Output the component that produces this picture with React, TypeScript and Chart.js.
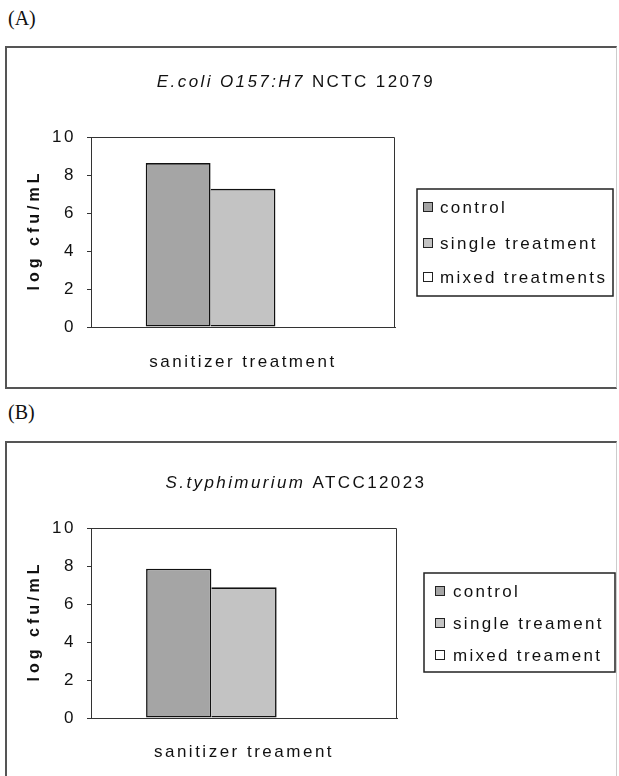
import React, { useEffect, useRef } from 'react';
import { Chart, registerables } from 'chart.js';

Chart.register(...registerables);

// ---------- data ----------
const categories = [''];
const yMin = 0;
const yMax = 10;
const yStep = 2;
const yTitle = 'log cfu/mL';
const seriesColors = ['#a5a5a5', '#c3c3c3', '#ffffff'];

const titleA = [
  { text: 'E.coli O157:H7', italic: true },
  { text: ' NCTC 12079', italic: false },
];
const labelsA = ['control', 'single treatment', 'mixed treatments'];
const controlA = [8.63];
const singleA = [7.27];
const mixedA = [0];
const xTitleA = 'sanitizer treatment';

const titleB = [
  { text: 'S.typhimurium', italic: true },
  { text: ' ATCC12023', italic: false },
];
const labelsB = ['control', 'single treament', 'mixed treament'];
const controlB = [7.86];
const singleB = [6.88];
const mixedB = [0];
const xTitleB = 'sanitizer treament';

// ---------- drawing helpers ----------
const FONT = "'Liberation Sans', Arial, sans-serif";
const TEXT = '#111';

const decorPlugin = {
  id: 'decor',
  beforeDraw(chart: any) {
    (chart.ctx as any).letterSpacing = '2.5px';
  },
  afterDraw(chart: any, _args: any, opts: any) {
    const ctx = chart.ctx as any;
    const { left, top, right, bottom } = chart.chartArea;
    ctx.save();
    // top and right frame of plot
    ctx.strokeStyle = '#333';
    ctx.lineWidth = 1;
    ctx.beginPath();
    const t = Math.round(top) + 0.5;
    const r = Math.round(right) - 0.5;
    ctx.moveTo(Math.round(left), t);
    ctx.lineTo(r, t);
    ctx.lineTo(r, Math.round(bottom));
    ctx.stroke();

    // title with mixed italic / normal parts
    ctx.fillStyle = TEXT;
    ctx.textBaseline = 'middle';
    ctx.textAlign = 'left';
    ctx.letterSpacing = '2.4px';
    const parts = opts.title as { text: string; italic: boolean }[];
    let total = 0;
    const widths = parts.map((p) => {
      ctx.font = `${p.italic ? 'italic ' : ''}17px ${FONT}`;
      const w = ctx.measureText(p.text).width;
      total += w;
      return w;
    });
    let x = opts.titleX - total / 2;
    parts.forEach((p, i) => {
      ctx.font = `${p.italic ? 'italic ' : ''}17px ${FONT}`;
      ctx.fillText(p.text, x, opts.titleY);
      x += widths[i];
    });

    // y axis title (rotated, bold)
    ctx.save();
    ctx.translate(opts.yTitleX, (top + bottom) / 2);
    ctx.rotate(-Math.PI / 2);
    ctx.font = `bold 16px ${FONT}`;
    ctx.letterSpacing = '4px';
    ctx.textAlign = 'center';
    ctx.fillText(yTitle, 2, 0);
    ctx.restore();

    // legend
    const lg = opts.legend;
    ctx.strokeStyle = '#222';
    ctx.lineWidth = 1.5;
    ctx.strokeRect(lg.x, lg.y, lg.w, lg.h);
    ctx.font = `17px ${FONT}`;
    ctx.letterSpacing = '2.3px';
    ctx.textAlign = 'left';
    chart.data.datasets.forEach((ds: any, i: number) => {
      const cy = lg.items[i];
      ctx.fillStyle = ds.backgroundColor;
      ctx.fillRect(lg.swX + 0.5, cy - 4.5, 9, 9);
      ctx.strokeStyle = '#222';
      ctx.lineWidth = 1;
      ctx.strokeRect(lg.swX + 0.5, cy - 4.5, 9, 9);
      ctx.fillStyle = TEXT;
      ctx.fillText(ds.label, lg.textX, cy + 1);
    });
    ctx.restore();
  },
};

type PanelProps = {
  title: { text: string; italic: boolean }[];
  labels: string[];
  series: number[][];
  xTitle: string;
  canvasTop: number;
  canvasHeight: number;
  padRight: number;
  padTop: number;
  xScaleHeight: number;
  titleY: number;
  legend: any;
};

function Panel(p: PanelProps) {
  const ref = useRef<HTMLCanvasElement | null>(null);
  useEffect(() => {
    if (!ref.current) return;
    const chart = new Chart(ref.current, {
      type: 'bar',
      data: {
        labels: categories,
        datasets: p.series.map((vals, i) => ({
          label: p.labels[i],
          data: vals,
          backgroundColor: seriesColors[i],
          borderColor: '#111',
          borderWidth:
            i === 0
              ? 1.6
              : { top: 1.6, right: 1.6, bottom: 1.6, left: 0 },
          borderSkipped: false,
          categoryPercentage: 0.64,
          barPercentage: 1,
        })),
      },
      options: {
        responsive: false,
        animation: false,
        events: [],
        layout: { padding: { left: 0, right: p.padRight, top: p.padTop, bottom: 0 } },
        plugins: {
          legend: { display: false },
          title: { display: false },
          tooltip: { enabled: false },
          decor: {
            title: p.title,
            titleX: 288,
            titleY: p.titleY,
            yTitleX: 27,
            legend: p.legend,
          },
        } as any,
        scales: {
          x: {
            grid: { display: false },
            border: { display: true, color: '#333', width: 1 },
            ticks: { display: false },
            title: {
              display: true,
              text: p.xTitle,
              color: TEXT,
              font: { family: FONT, size: 17 },
              padding: { top: 0, bottom: 13 },
            },
            afterFit: (s: any) => {
              s.height = p.xScaleHeight;
            },
          },
          y: {
            min: yMin,
            max: yMax,
            ticks: {
              stepSize: yStep,
              color: TEXT,
              padding: 11,
              font: { family: FONT, size: 17 },
            },
            grid: {
              display: true,
              drawOnChartArea: false,
              drawTicks: true,
              tickLength: 4,
              color: '#333',
            },
            border: { display: true, color: '#333', width: 1 },
            afterFit: (s: any) => {
              s.width = 83;
            },
          },
        },
      },
      plugins: [decorPlugin as any],
    });
    return () => chart.destroy();
  }, []);
  return (
    <canvas
      ref={ref}
      width={611}
      height={p.canvasHeight}
      style={{ position: 'absolute', left: 8, top: p.canvasTop, width: 611, height: p.canvasHeight }}
    />
  );
}

const labelStyle: React.CSSProperties = {
  position: 'absolute',
  left: 8,
  fontFamily: "'Liberation Serif', 'Times New Roman', serif",
  fontSize: 20,
  lineHeight: '20px',
  color: '#111',
};

export default function App() {
  return (
    <div
      style={{
        position: 'absolute',
        left: 0,
        top: 0,
        width: 619,
        height: 776,
        overflow: 'hidden',
        background: '#fff',
      }}
    >
      <div style={{ ...labelStyle, top: 8 }}>(A)</div>
      <div
        style={{
          position: 'absolute',
          left: 5,
          top: 46,
          width: 612,
          height: 343,
          boxSizing: 'border-box',
          borderLeft: '2px solid #555',
          borderTop: '2px solid #555',
          borderBottom: '2px solid #555',
          borderRight: '1px solid #ccc',
        }}
      />
      <Panel
        title={titleA}
        labels={labelsA}
        series={[controlA, singleA, mixedA]}
        xTitle={xTitleA}
        canvasTop={50}
        canvasHeight={336}
        padRight={224}
        padTop={87}
        xScaleHeight={59}
        titleY={32}
        legend={{ x: 409, y: 139, w: 196, h: 107, items: [157, 193, 227], swX: 415, textX: 432 }}
      />
      <div style={{ ...labelStyle, top: 402 }}>(B)</div>
      <div
        style={{
          position: 'absolute',
          left: 5,
          top: 441,
          width: 612,
          height: 400,
          boxSizing: 'border-box',
          borderLeft: '2px solid #555',
          borderTop: '2px solid #555',
          borderRight: '1px solid #ccc',
        }}
      />
      <Panel
        title={titleB}
        labels={labelsB}
        series={[controlB, singleB, mixedB]}
        xTitle={xTitleB}
        canvasTop={445}
        canvasHeight={331}
        padRight={222}
        padTop={83}
        xScaleHeight={58}
        titleY={38}
        legend={{ x: 416, y: 128, w: 191, h: 99, items: [146, 178, 210], swX: 427, textX: 445 }}
      />
    </div>
  );
}
